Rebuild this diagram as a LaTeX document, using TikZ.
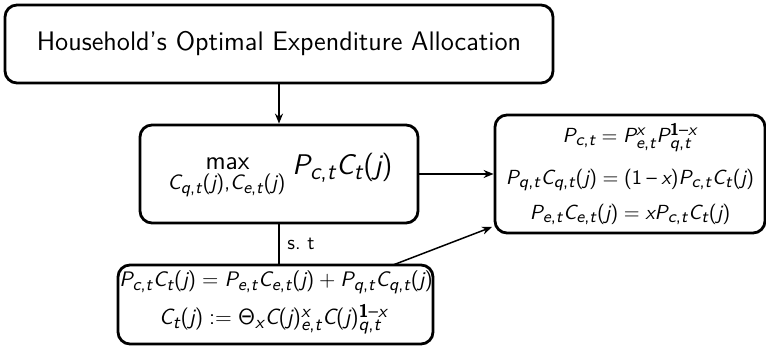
\documentclass[tikz,border=0pt]{standalone}
\renewcommand{\familydefault}{\sfdefault}
\usepackage[italic]{mathastext}
\usetikzlibrary{arrows.meta,calc}
\newcommand{\sTheta}{\mathord{\mbox{\usefont{OT1}{cmss}{m}{n}\char2}}}
\tikzset{
  box/.style={draw, line width=1.4pt, rounded corners=6pt, inner sep=0pt},
  eq/.style={anchor=base, inner sep=0pt},
  conn/.style={line width=0.75pt, -{Stealth[length=5pt,width=4pt]}},
  plainconn/.style={line width=0.75pt}
}
\begin{document}
\begin{tikzpicture}[x=0.5pt,y=-0.5pt]
\useasboundingbox (0,0) rectangle (766,346);
% boxes
\node[box, minimum width=274pt, minimum height=39pt, font=\fontsize{13.4}{16}\selectfont] (top) at (279,44) {Household's Optimal Expenditure Allocation};
\node[box, minimum width=139pt, minimum height=49pt] (mid) at (279,174) {};
\node[box, minimum width=157.5pt, minimum height=39.5pt] (bot) at (275.5,304.5) {};
\node[box, minimum width=135pt, minimum height=59pt] (rgt) at (630,174) {};
% middle box content
\node[eq, font=\fontsize{13}{15}\selectfont] (mx) at (227.5,170) {max};
\node[eq, font=\fontsize{10.4}{12}\selectfont] (mxs) at (226.5,190) {$C_{q,t}(j){,}C_{e,t}(j)$};
\node[eq, anchor=base west, font=\fontsize{14.2}{17}\selectfont] (obj) at (292,175) {$P_{c,t}C_t(j)$};
% bottom box content
\node[eq, font=\fontsize{10.5}{12}\selectfont] (b1) at (276,287) {$P_{c,t}C_t(j) = P_{e,t}C_{e,t}(j) + P_{q,t}C_{q,t}(j)$};
\node[eq, font=\fontsize{11}{13}\selectfont] (b2) at (273.5,325) {$C_t(j) := \sTheta_x C(j)_{e,t}^{x} C(j)_{q,t}^{\mathbf{1}-x}$};
% right box content
\node[eq, font=\fontsize{10.2}{12}\selectfont] (r1) at (630,143) {$P_{c,t} = P_{e,t}^{x}P_{q,t}^{\mathbf{1}-x}$};
\node[eq, font=\fontsize{10.2}{12}\selectfont] (r2) at (630,185) {$P_{q,t}C_{q,t}(j) = (1-x)P_{c,t}C_t(j)$};
\node[eq, font=\fontsize{10.2}{12}\selectfont] (r3) at (630,220) {$P_{e,t}C_{e,t}(j) = xP_{c,t}C_t(j)$};
% connectors
\coordinate (d1) at (393,265);
\coordinate (d2) at (492,227);
\draw[conn] (top.south) -- (mid.north);
\draw[conn] (mid.east) -- (rgt.west);
\draw[plainconn] (mid.south) -- (mid.south |- bot.north);
\node[anchor=base west, inner sep=0pt] (st) at (287,250) {s.\ t};
\draw[conn] (d1) -- (d2);
\end{tikzpicture}
\end{document}
